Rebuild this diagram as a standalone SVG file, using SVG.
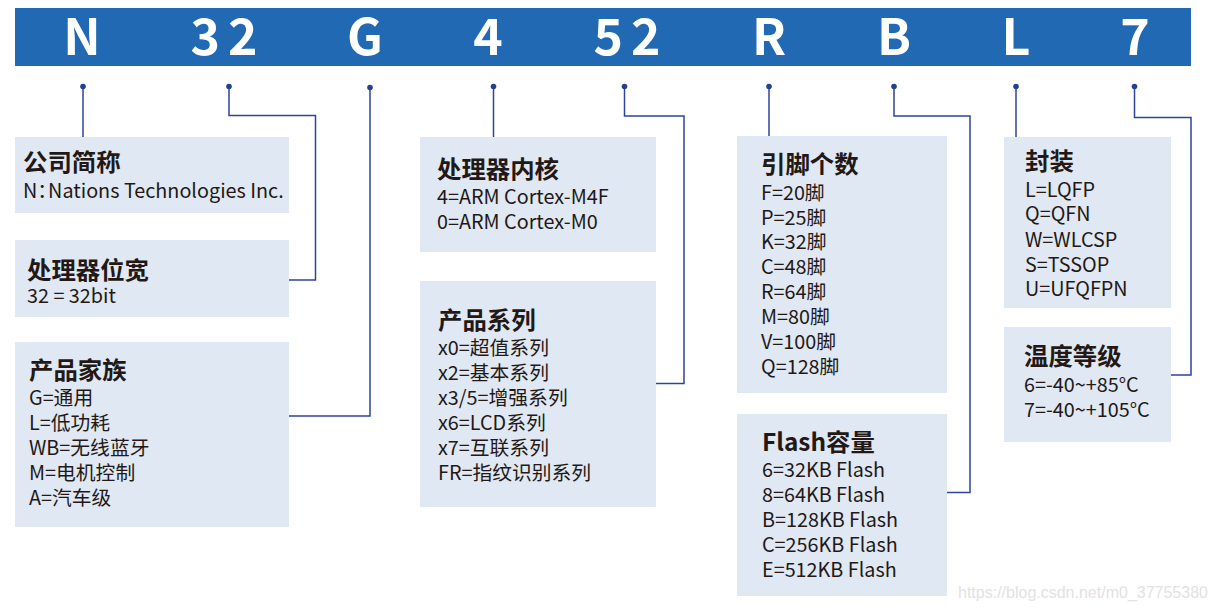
<svg xmlns="http://www.w3.org/2000/svg" width="1214" height="614" viewBox="0 0 1214 614">
<style>
.box{fill:#dfe8f3}
.t{font-family:"Noto Sans CJK SC","Noto Sans",sans-serif;font-weight:700;font-size:24.4px;fill:#231815}
.s{font-family:"Noto Sans CJK SC","Noto Sans",sans-serif;font-weight:400;font-size:19.8px;fill:#231815}
.h{font-family:"Noto Sans CJK SC","Noto Sans",sans-serif;font-weight:700;font-size:50px;fill:#ffffff;text-anchor:middle}
.c{fill:none;stroke:#2c449c;stroke-width:1.5}
.d{fill:#23418f}
.w{font-family:"Liberation Sans",Arial,sans-serif;font-size:16px;fill:#e2e2e2}
</style>
<rect width="1214" height="614" fill="#ffffff"/>
<g id="header">
<rect x="15" y="8" width="1176" height="58" fill="#2169b3"/>
<text class="h" x="82" y="55">N</text>
<text class="h" x="228" y="55" letter-spacing="8">32</text>
<text class="h" x="365" y="55">G</text>
<text class="h" x="488" y="55">4</text>
<text class="h" x="631" y="55" letter-spacing="8">52</text>
<text class="h" x="769" y="55">R</text>
<text class="h" x="894" y="55">B</text>
<text class="h" x="1016" y="55">L</text>
<text class="h" x="1135" y="55">7</text>
</g>
<g id="connectors">
<path class="c" d="M83,86.5 V137"/>
<path class="c" d="M229,86.5 V115.5 H315.5 V280 H289"/>
<path class="c" d="M370,87.5 V416 H289"/>
<path class="c" d="M493.5,86.5 V137"/>
<path class="c" d="M624.5,86.5 V116 H684 V383.5 H656"/>
<path class="c" d="M769,86.5 V136"/>
<path class="c" d="M894,86.5 V116 H970 V492.5 H947"/>
<path class="c" d="M1016,86.5 V137"/>
<path class="c" d="M1134.5,86.5 V117.5 H1191 V375 H1171"/>
<circle class="d" cx="83" cy="86.5" r="2.8"/>
<circle class="d" cx="229" cy="86.5" r="2.8"/>
<circle class="d" cx="370" cy="87.5" r="2.8"/>
<circle class="d" cx="493.5" cy="86.5" r="2.8"/>
<circle class="d" cx="624.5" cy="86.5" r="2.8"/>
<circle class="d" cx="769" cy="86.5" r="2.8"/>
<circle class="d" cx="894" cy="86.5" r="2.8"/>
<circle class="d" cx="1016" cy="86.5" r="2.8"/>
<circle class="d" cx="1134.5" cy="86.5" r="2.8"/>
</g>
<g id="company">
<rect class="box" x="15" y="137" width="274" height="76"/>
<text class="t" x="23" y="171">公司简称</text>
<text class="s" x="23" y="198">N：<tspan dx="-9">Nations Technologies Inc.</tspan></text>
</g>
<g id="bitwidth">
<rect class="box" x="15" y="240" width="274" height="77"/>
<text class="t" x="27" y="279">处理器位宽</text>
<text class="s" x="27" y="303">32 = 32bit</text>
</g>
<g id="family">
<rect class="box" x="15" y="342" width="274" height="185"/>
<text class="t" x="29" y="379">产品家族</text>
<text class="s" x="29" y="405">G=通用</text>
<text class="s" x="29" y="430">L=低功耗</text>
<text class="s" x="29" y="455">WB=无线蓝牙</text>
<text class="s" x="29" y="480">M=电机控制</text>
<text class="s" x="29" y="505">A=汽车级</text>
</g>
<g id="core">
<rect class="box" x="420" y="137" width="236" height="115"/>
<text class="t" x="437" y="178">处理器内核</text>
<text class="s" x="437" y="204">4=ARM Cortex-M4F</text>
<text class="s" x="437" y="229">0=ARM Cortex-M0</text>
</g>
<g id="series">
<rect class="box" x="420" y="281" width="236" height="226"/>
<text class="t" x="438" y="329">产品系列</text>
<text class="s" x="438" y="355">x0=超值系列</text>
<text class="s" x="438" y="380">x2=基本系列</text>
<text class="s" x="438" y="405">x3/5=增强系列</text>
<text class="s" x="438" y="430">x6=LCD系列</text>
<text class="s" x="438" y="455">x7=互联系列</text>
<text class="s" x="438" y="480">FR=指纹识别系列</text>
</g>
<g id="pins">
<rect class="box" x="737" y="136" width="210" height="257"/>
<text class="t" x="761" y="173">引脚个数</text>
<text class="s" x="761" y="200">F=20脚</text>
<text class="s" x="761" y="224.5">P=25脚</text>
<text class="s" x="761" y="249">K=32脚</text>
<text class="s" x="761" y="274">C=48脚</text>
<text class="s" x="761" y="299">R=64脚</text>
<text class="s" x="761" y="324">M=80脚</text>
<text class="s" x="761" y="349">V=100脚</text>
<text class="s" x="761" y="373.5">Q=128脚</text>
</g>
<g id="flash">
<rect class="box" x="737" y="414" width="210" height="182"/>
<text class="t" x="762" y="451">Flash容量</text>
<text class="s" x="762" y="477">6=32KB Flash</text>
<text class="s" x="762" y="502">8=64KB Flash</text>
<text class="s" x="762" y="527">B=128KB Flash</text>
<text class="s" x="762" y="552">C=256KB Flash</text>
<text class="s" x="762" y="577">E=512KB Flash</text>
</g>
<g id="package">
<rect class="box" x="1004" y="137" width="167" height="171"/>
<text class="t" x="1025" y="170">封装</text>
<text class="s" x="1025" y="196.5">L=LQFP</text>
<text class="s" x="1025" y="221">Q=QFN</text>
<text class="s" x="1025" y="246.5">W=WLCSP</text>
<text class="s" x="1025" y="271.5">S=TSSOP</text>
<text class="s" x="1025" y="296">U=UFQFPN</text>
</g>
<g id="temperature">
<rect class="box" x="1004" y="327" width="167" height="115"/>
<text class="t" x="1024" y="365">温度等级</text>
<text class="s" x="1024" y="391.5">6=-40~+85°C</text>
<text class="s" x="1024" y="416.5">7=-40~+105°C</text>
</g>
<text class="w" x="958" y="598">https://blog.csdn.net/m0_37755380</text>
</svg>
